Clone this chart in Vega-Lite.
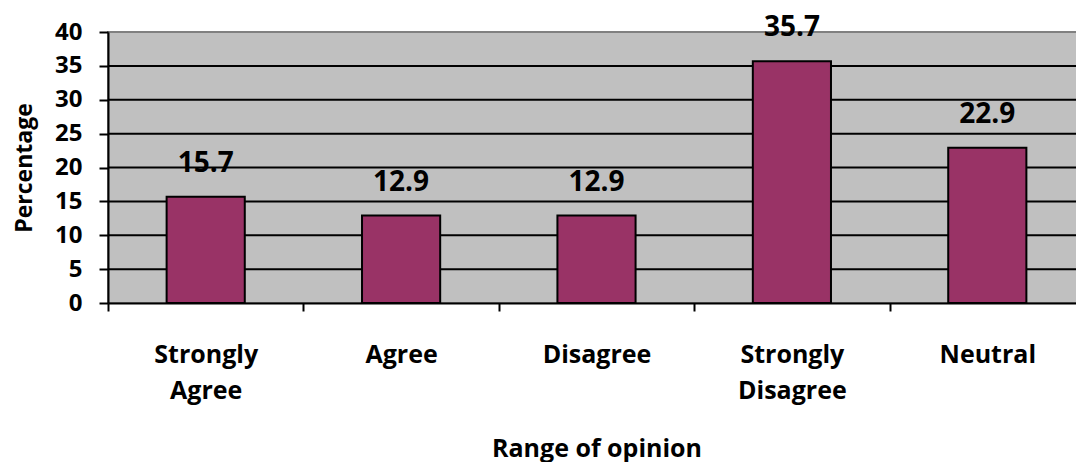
{
  "$schema": "https://vega.github.io/schema/vega-lite/v6.json",
  "width": 977,
  "height": 271,
  "autosize": "none",
  "padding": {"left": 108, "top": 32, "right": 0, "bottom": 159},
  "background": "white",
  "config": {
    "view": {"fill": "#c0c0c0", "stroke": "#808080", "strokeWidth": 2},
    "font": "Open Sans"
  },
  "data": {
    "values": [
      {"opinion": "Strongly Agree", "pct": 15.7},
      {"opinion": "Agree", "pct": 12.9},
      {"opinion": "Disagree", "pct": 12.9},
      {"opinion": "Strongly Disagree", "pct": 35.7},
      {"opinion": "Neutral", "pct": 22.9}
    ]
  },
  "encoding": {
    "x": {
      "field": "opinion",
      "type": "nominal",
      "sort": null,
      "scale": {"paddingInner": 0.6, "paddingOuter": 0.3},
      "axis": {
        "title": "Range of opinion",
        "titleFont": "Open Sans",
        "titleFontSize": 25,
        "titleFontWeight": "bold",
        "titleColor": "#000000",
        "titlePadding": 33,
        "labelAngle": 0,
        "labelFont": "Open Sans",
        "labelFontSize": 25,
        "labelFontWeight": "bold",
        "labelColor": "#000000",
        "labelPadding": 31,
        "labelLineHeight": 36,
        "labelExpr": "split(datum.label, ' ')",
        "labelBaseline": "top",
        "labelOffset": 97.7,
        "ticks": true,
        "tickOffset": -97.7,
        "tickColor": "#000000",
        "tickSize": 8,
        "tickWidth": 2,
        "domainColor": "#000000",
        "domainWidth": 2
      }
    },
    "y": {
      "field": "pct",
      "type": "quantitative",
      "scale": {"domain": [0, 40], "nice": false},
      "axis": {
        "title": "Percentage",
        "titleFont": "Open Sans",
        "titleFontSize": 23,
        "titleFontWeight": "bold",
        "titleColor": "#000000",
        "titlePadding": 18,
        "values": [0, 5, 10, 15, 20, 25, 30, 35, 40],
        "labelFont": "Open Sans",
        "labelFontSize": 24,
        "labelFontWeight": "bold",
        "labelColor": "#000000",
        "labelPadding": 17,
        "tickColor": "#000000",
        "tickSize": 9,
        "tickWidth": 2,
        "domainColor": "#000000",
        "domainWidth": 2,
        "grid": false
      }
    }
  },
  "layer": [
    {
      "data": {"values": [{"g": 5}, {"g": 10}, {"g": 15}, {"g": 20}, {"g": 25}, {"g": 30}, {"g": 35}]},
      "mark": {"type": "rule", "color": "#000000", "strokeWidth": 2},
      "encoding": {"y": {"field": "g", "type": "quantitative"}, "x": null}
    },
    {
      "mark": {"type": "bar", "fill": "#993366", "stroke": "#000000", "strokeWidth": 2}
    },
    {
      "mark": {"type": "text", "baseline": "alphabetic", "dy": -25, "font": "Open Sans", "fontSize": 28, "fontWeight": "bold", "color": "#000000"},
      "encoding": {"text": {"field": "pct", "type": "quantitative", "format": ".1f"}}
    }
  ]
}
